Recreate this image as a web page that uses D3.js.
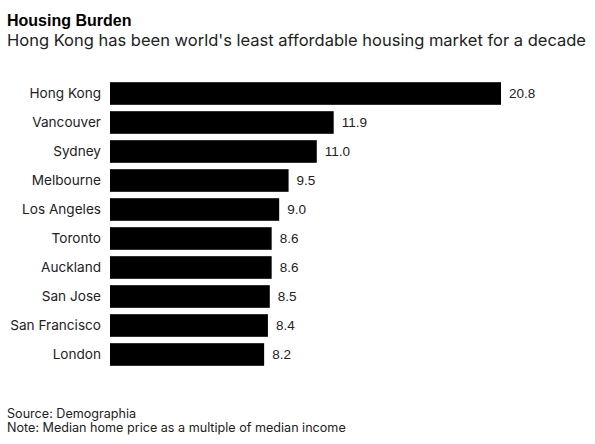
<!DOCTYPE html>
<html>
<head>
<meta charset="utf-8">
<script src="https://cdn.jsdelivr.net/npm/d3@7"></script>
<style>
  html, body { margin: 0; padding: 0; background: #fff; }
  svg { display: block; font-family: Inter, "Liberation Sans", Arial, sans-serif; }
</style>
</head>
<body>
<svg id="chart" width="595" height="444"></svg>
<script>
const categories = ["Hong Kong", "Vancouver", "Sydney", "Melbourne", "Los Angeles", "Toronto", "Auckland", "San Jose", "San Francisco", "London"];
const values = [20.8, 11.9, 11.0, 9.5, 9.0, 8.6, 8.6, 8.5, 8.4, 8.2];
const valueLabels = ["20.8", "11.9", "11.0", "9.5", "9.0", "8.6", "8.6", "8.5", "8.4", "8.2"];
const title = "Housing Burden";
const subtitle = "Hong Kong has been world's least affordable housing market for a decade";
const footnotes = ["Source: Demographia", "Note: Median home price as a multiple of median income"];

const svg = d3.select("#chart");

svg.append("text").attr("x", 7).attr("y", 26)
  .attr("font-size", 16).attr("font-weight", "bold").attr("fill", "#000")
  .attr("font-family", "'Liberation Sans', Arial, sans-serif")
  .text(title);
svg.append("text").attr("x", 7).attr("y", 45.5)
  .attr("font-size", 16.5).attr("fill", "#222")
  .text(subtitle);

const x = d3.scaleLinear().domain([0, 20.8]).range([110, 501]);
const y = d3.scaleBand().domain(categories).range([79, 369]).paddingInner(0.22).paddingOuter(0.11);

const g = svg.append("g");
g.selectAll("rect").data(categories).join("rect")
  .attr("x", x(0))
  .attr("y", d => y(d))
  .attr("width", (d, i) => x(values[i]) - x(0))
  .attr("height", y.bandwidth())
  .attr("fill", "#000");

g.selectAll("text.cat").data(categories).join("text")
  .attr("class", "cat")
  .attr("x", 101)
  .attr("y", d => y(d) + y.bandwidth() / 2)
  .attr("dy", "0.35em")
  .attr("text-anchor", "end")
  .attr("font-size", 13.6)
  .attr("fill", "#222")
  .text(d => d);

g.selectAll("text.val").data(categories).join("text")
  .attr("class", "val")
  .attr("x", (d, i) => x(values[i]) + 8)
  .attr("y", d => y(d) + y.bandwidth() / 2)
  .attr("dy", "0.35em")
  .attr("font-size", 13.5)
  .attr("font-family", "'Liberation Sans', Arial, sans-serif")
  .attr("fill", "#222")
  .text((d, i) => valueLabels[i]);

svg.selectAll("text.foot").data(footnotes).join("text")
  .attr("class", "foot")
  .attr("x", 7)
  .attr("y", (d, i) => 418 + i * 14)
  .attr("font-size", 12.6)
  .attr("fill", "#222")
  .text(d => d);
</script>
</body>
</html>
